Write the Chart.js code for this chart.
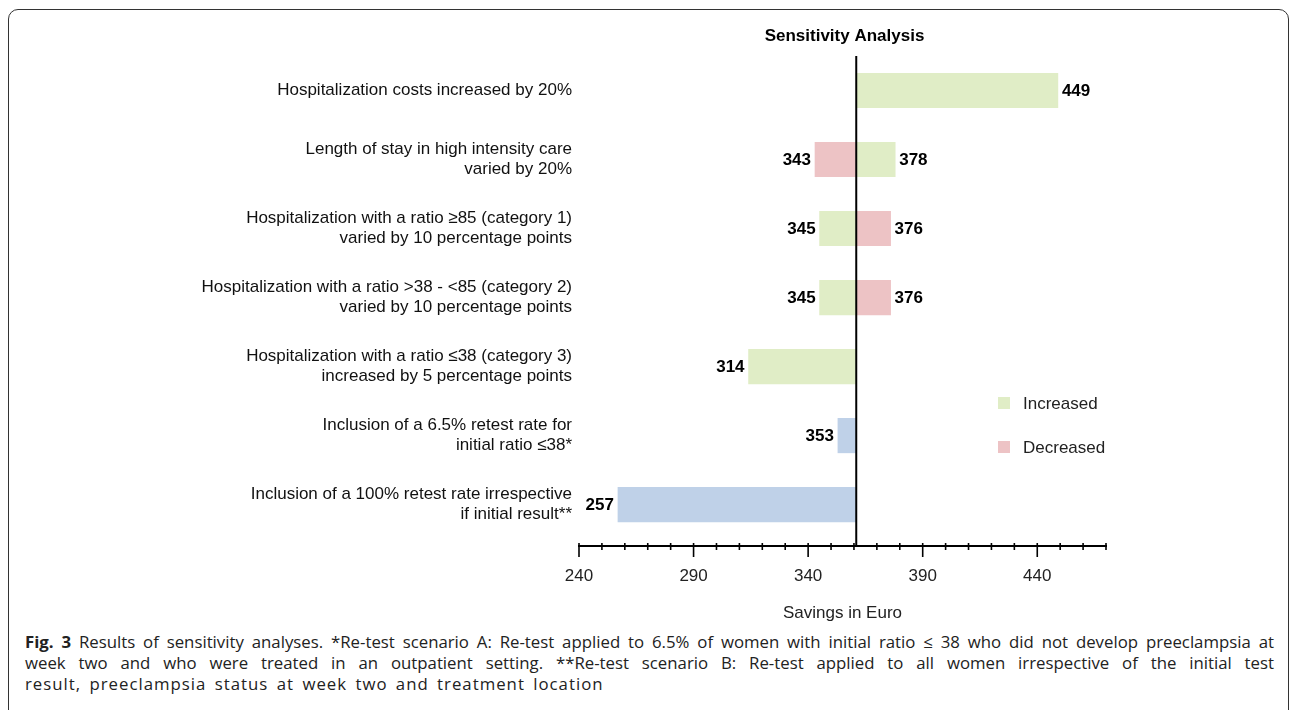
<!DOCTYPE html>
<html>
<head>
<meta charset="utf-8">
<script src="https://cdn.jsdelivr.net/npm/chart.js@4.4.1/dist/chart.umd.min.js"></script>
<style>
  html, body { margin: 0; padding: 0; background: #fff; }
  body { width: 1290px; height: 710px; position: relative; overflow: hidden; }
  #frame { position: absolute; left: 8px; top: 9px; width: 1281px; height: 760px; border: 1.5px solid #333; border-radius: 10px; box-sizing: border-box; }
  #wrap { position: absolute; left: 0; top: 0; width: 1290px; height: 630px; }
  #caption { position: absolute; left: 25px; top: 631px; width: 1249px; font-family: "Open Sans", sans-serif; font-size: 16.8px; line-height: 21px; color: #222; }
  #caption .j { text-align: justify; text-align-last: justify; }
  #caption .last { letter-spacing: 1px; word-spacing: 3px; }
</style>
</head>
<body>
<div id="frame"></div>
<div id="wrap"><canvas id="tornado"></canvas></div>
<div id="caption">
  <div class="j"><b>Fig. 3</b> Results of sensitivity analyses. *Re-test scenario A: Re-test applied to 6.5% of women with initial ratio ≤ 38 who did not develop preeclampsia at</div>
  <div class="j">week two and who were treated in an outpatient setting. **Re-test scenario B: Re-test applied to all women irrespective of the initial test</div>
  <div class="last">result, preeclampsia status at week two and treatment location</div>
</div>
<script>
// données du graphique
const CATEGORIES = [
  'Hospitalization costs increased by 20%',
  ['Length of stay in high intensity care', 'varied by 20%'],
  ['Hospitalization with a ratio ≥85 (category 1)', 'varied by 10 percentage points'],
  ['Hospitalization with a ratio >38 - <85 (category 2)', 'varied by 10 percentage points'],
  ['Hospitalization with a ratio ≤38 (category 3)', 'increased by 5 percentage points'],
  ['Inclusion of a 6.5% retest rate for', 'initial ratio ≤38*'],
  ['Inclusion of a 100% retest rate irrespective', 'if initial result**']
];
const BASE = 361;
const INCREASED = [449, 378, 345, 345, 314, null, null];
const DECREASED = [null, 343, 376, 376, null, null, null];
const RETEST = [null, null, null, null, null, 353, 257];
const X_TICKS = [240, 290, 340, 390, 440];
const X_MIN = 240;
const X_MAX = 470;

const GREEN = '#e0edc6';
const RED = '#edc3c5';
const BLUE = '#bfd1e8';
const FONT = '"Liberation Sans", Arial, Helvetica, sans-serif';

Chart.defaults.font.family = FONT;
Chart.defaults.font.size = 17;

const toBars = arr => arr
  .map((v, i) => v == null ? null : { x: [BASE, v], y: i })
  .filter(p => p);

// ligne de base, étiquettes, graduations, titre, légende
const tornadoExtras = {
  id: 'tornadoExtras',
  afterDatasetsDraw(chart) {
    const { ctx, chartArea, scales: { x, y } } = chart;
    ctx.save();
    const bx = x.getPixelForValue(BASE);
    ctx.strokeStyle = '#000';
    ctx.lineWidth = 2;
    ctx.beginPath();
    ctx.moveTo(bx, chartArea.top);
    ctx.lineTo(bx, chartArea.bottom);
    ctx.stroke();

    ctx.font = 'bold 17px ' + FONT;
    ctx.fillStyle = '#000';
    ctx.textBaseline = 'middle';
    [INCREASED, DECREASED, RETEST].forEach(arr => arr.forEach((v, i) => {
      if (v == null) return;
      const px = x.getPixelForValue(v);
      const py = y.getPixelForValue(i);
      const right = v >= BASE;
      ctx.textAlign = right ? 'left' : 'right';
      ctx.fillText(String(v), px + (right ? 4 : -4), py + 1);
    }));
    ctx.restore();
  },
  afterDraw(chart) {
    const { ctx, chartArea, scales: { x } } = chart;
    ctx.save();
    // graduations
    const ay = chartArea.bottom;
    ctx.strokeStyle = '#000';
    ctx.lineWidth = 1.6;
    for (let v = X_MIN; v <= X_MAX; v += 10) {
      const px = x.getPixelForValue(v);
      const major = X_TICKS.includes(v);
      ctx.beginPath();
      ctx.moveTo(px, ay - 3);
      ctx.lineTo(px, ay + (major ? 11 : 4));
      ctx.stroke();
    }
    // titre
    ctx.fillStyle = '#000';
    ctx.font = 'bold 17px ' + FONT;
    ctx.textAlign = 'center';
    ctx.textBaseline = 'middle';
    ctx.fillText('Sensitivity Analysis', (chartArea.left + chartArea.right) / 2 + 2, 36);
    // légende
    const items = [[GREEN, 'Increased', 403], [RED, 'Decreased', 447]];
    ctx.font = '17px ' + FONT;
    ctx.textAlign = 'left';
    items.forEach(([c, label, ly]) => {
      ctx.fillStyle = c;
      ctx.fillRect(998, ly - 6, 12, 12);
      ctx.fillStyle = '#222';
      ctx.fillText(label, 1023, ly + 1);
    });
    ctx.restore();
  }
};

const ctx = document.getElementById('tornado').getContext('2d');
const tornadoChart = new Chart(ctx, {
  type: 'bar',
  data: {
    datasets: [
      { label: 'Increased', data: toBars(INCREASED), backgroundColor: GREEN },
      { label: 'Decreased', data: toBars(DECREASED), backgroundColor: RED },
      { label: 'Retest', data: toBars(RETEST), backgroundColor: BLUE }
    ]
  },
  options: {
    responsive: true,
    maintainAspectRatio: false,
    animation: false,
    indexAxis: 'y',
    datasets: { bar: { grouped: false, barThickness: 34.5, borderWidth: 0 } },
    layout: { padding: { left: 0, right: 184, top: 56, bottom: 0 } },
    plugins: { legend: { display: false }, tooltip: { enabled: false } },
    scales: {
      x: {
        type: 'linear',
        position: 'bottom',
        min: X_MIN,
        max: X_MAX,
        afterBuildTicks: s => { s.ticks = X_TICKS.map(v => ({ value: v })); },
        afterFit: s => { s.height = 84; },
        grid: { display: false, drawTicks: false },
        border: { display: true, color: '#000', width: 2 },
        ticks: { padding: 20, color: '#222', font: { size: 17 } },
        title: { display: true, text: 'Savings in Euro', color: '#222', font: { size: 17 }, padding: { top: 0, bottom: 6 } }
      },
      y: {
        type: 'linear',
        reverse: true,
        offset: false,
        min: -0.5,
        max: 6.6,
        afterBuildTicks: s => { s.ticks = CATEGORIES.map((_, i) => ({ value: i })); },
        afterFit: s => { s.width = 579; },
        grid: { display: false, drawTicks: false, offset: false },
        border: { display: false },
        ticks: { padding: 7, color: '#111', font: { size: 17, lineHeight: 1.18 }, callback: v => CATEGORIES[v] }
      }
    }
  },
  plugins: [tornadoExtras]
});
</script>
</body>
</html>
